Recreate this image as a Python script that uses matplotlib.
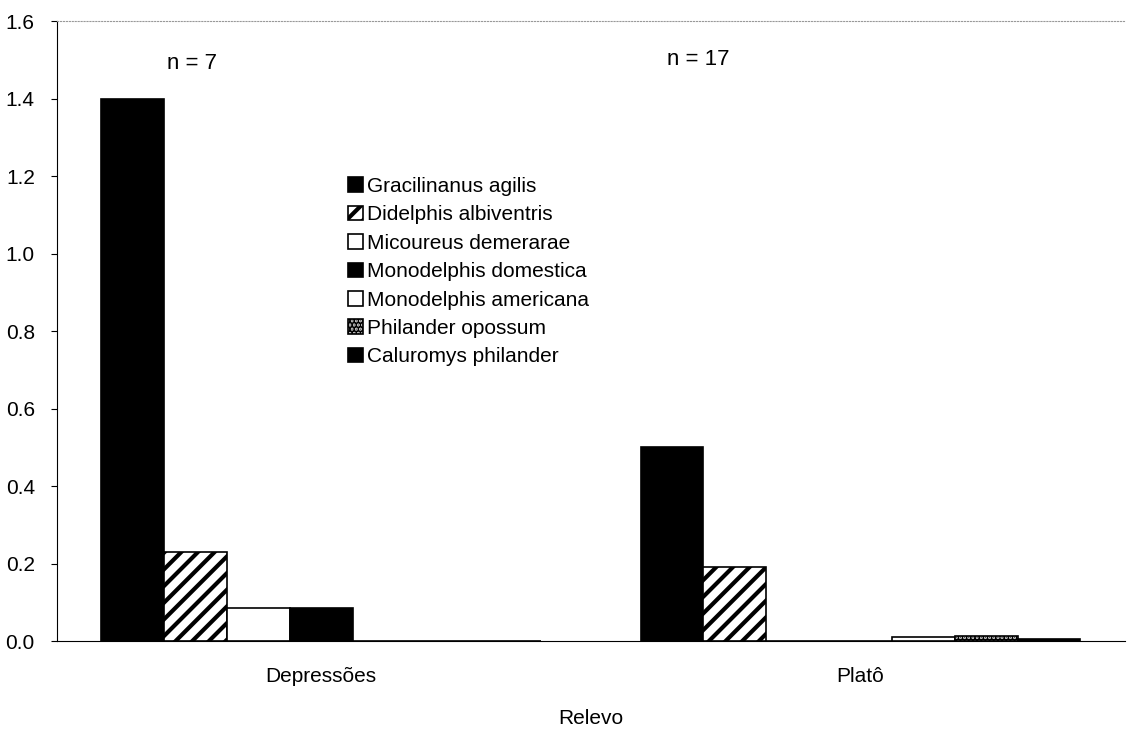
import numpy as np
from matplotlib import pyplot as plt

plt.rcParams['font.family'] = ['Liberation Sans', 'DejaVu Sans']
plt.rcParams['hatch.linewidth'] = 3.0

categories = ['Depressões', 'Platô']
species = ['Gracilinanus agilis', 'Didelphis albiventris', 'Micoureus demerarae',
           'Monodelphis domestica', 'Monodelphis americana', 'Philander opossum',
           'Caluromys philander']
values = {
    'Gracilinanus agilis': [1.4, 0.5],
    'Didelphis albiventris': [0.23, 0.19],
    'Micoureus demerarae': [0.085, 0.0],
    'Monodelphis domestica': [0.085, 0.0],
    'Monodelphis americana': [0.0, 0.01],
    'Philander opossum': [0.0, 0.012],
    'Caluromys philander': [0.0, 0.005],
}
sample_sizes = ['n = 7', 'n = 17']

# face colour and hatch for each species
styles = [('black', None), ('white', '//'), ('white', None), ('black', None),
          ('white', None), ('#bbbbbb', '....'), ('black', None)]

fig = plt.figure(figsize=(11.27, 7.32), dpi=100)
ax = fig.add_axes([0.0506, 0.1243, 0.9474, 0.8467])

x = np.arange(len(categories))
width = 0.1165
for i, sp in enumerate(species):
    fc, hatch = styles[i]
    offs = (i - 3) * width
    ax.bar(x + offs, values[sp], width, color=fc, edgecolor='black',
           hatch=hatch, linewidth=1.2, label=sp)

fs = 15
ax.set_xlim(-0.49, 1.49)
ax.set_ylim(0, 1.6)
ax.set_yticks(np.arange(0, 1.61, 0.2))
ax.set_yticklabels(['%.1f' % v for v in np.arange(0, 1.61, 0.2)], fontsize=fs)
ax.set_xticks(x)
ax.set_xticklabels(categories, fontsize=fs)
ax.tick_params(axis='y', length=4, width=0.8, pad=12)
ax.tick_params(axis='x', length=0, pad=19)
ax.set_xlabel('Relevo', fontsize=fs, labelpad=16)

ax.spines['right'].set_visible(False)
ax.spines['top'].set_linestyle(':')
ax.spines['top'].set_color('#999999')
ax.spines['left'].set_linewidth(0.8)
ax.spines['bottom'].set_linestyle((0, (2, 1)))

ax.text(-0.24, 1.49, sample_sizes[0], fontsize=fs + 1, ha='center', va='center')
ax.text(0.70, 1.50, sample_sizes[1], fontsize=fs + 1, ha='center', va='center')

ax.legend(loc='upper left', bbox_to_anchor=(0.265, 0.762), frameon=False,
          fontsize=fs, handlelength=0.7, handleheight=0.7,
          handletextpad=0.2, labelspacing=0.45, borderaxespad=0)

fig.savefig('out.png', dpi=100)
